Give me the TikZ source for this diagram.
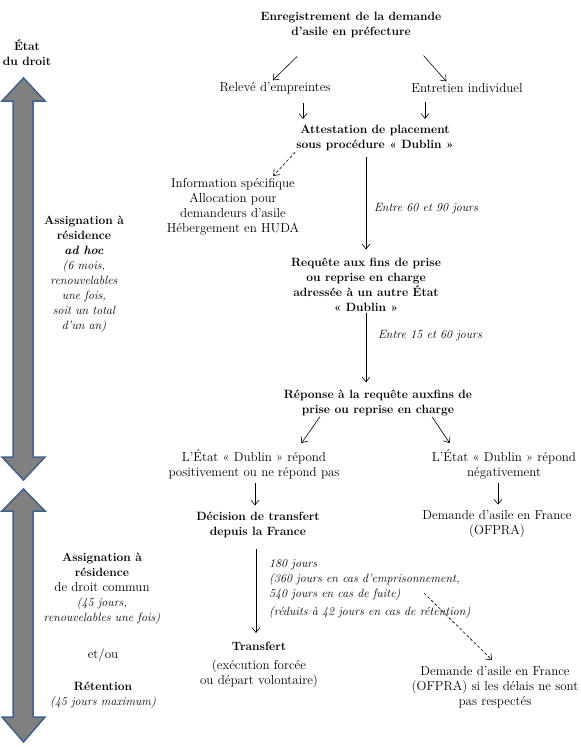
\documentclass[tikz,border=0pt]{standalone}
\usetikzlibrary{arrows.meta}
\definecolor{rim}{HTML}{41618C}
\newcommand\hdfont{\fontsize{12}{15}\selectfont\bfseries}
\newcommand\ntfont{\fontsize{12}{15}\selectfont\itshape}
\begin{document}
\begin{tikzpicture}[x=1pt, y=-1pt, >={Straight Barb[length=5pt,width=8pt]},
  txt/.style={align=center, inner sep=1pt, font=\fontsize{13}{15}\selectfont},
  hd/.style={txt, font=\hdfont},
  nt/.style={txt, font=\ntfont},
  arr/.style={->, line width=0.6pt},
  darr/.style={arr, dash pattern=on 3pt off 2pt}]
  \useasboundingbox (0,0) rectangle (581,747);
  \foreach \t/\a/\b/\e in {78/101/457/480, 489/511/717/742} {
    \filldraw[fill=black!50, draw=rim, line width=1.5pt, line join=miter]
      (23.5,\t) -- (45,\a) -- (33,\a) -- (33,\b) -- (45,\b) -- (23.5,\e) -- (2,\b) -- (13,\b) -- (13,\a) -- (2,\a) -- cycle;
  }
  \node[hd] (etat) at (27,53) {État\\ du droit};
  \node[hd] (reg) at (351,25) {Enregistrement de la demande\\ d'asile en préfecture};
  \node[txt] (rel) at (275,88) {Relevé d'empreintes};
  \node[txt] (ent) at (467,88) {Entretien individuel};
  \node[hd] (att) at (375,138) {Attestation de placement\\ sous procédure «~Dublin~»};
  \node[txt] (info) at (233,207) {Information spécifique\\ Allocation pour\\ demandeurs d'asile\\ Hébergement en HUDA};
  \node[nt] (d1) at (426,209) {Entre 60 et 90 jours};
  \node[hd] (req) at (366,284.5) {Requête aux fins de prise\\ ou reprise en charge\\ adressée à un autre État\\ «~Dublin~»};
  \node[nt] (d2) at (430,336) {Entre 15 et 60 jours};
  \node[hd] (rep) at (378,402.5) {Réponse à la requête auxfins de\\ prise ou reprise en charge};
  \node[txt] (pos) at (254,464) {L'État «~Dublin~» répond\\ positivement ou ne répond pas};
  \node[txt] (neg) at (504,464) {L'État «~Dublin~» répond\\ négativement};
  \node[hd] (dec) at (258,524.5) {Décision de transfert\\ depuis la France};
  \node[txt] (ofp) at (497,524.5) {Demande d'asile en France\\ (OFPRA)};
  \node[nt, anchor=west, align=left] (dl) at (268,589.5) {180 jours\\ (360 jours en cas d'emprisonnement,\\ 540 jours en cas de fuite)\\[3pt] (réduits à 42 jours en cas de rétention)};
  \node[txt] (trans) at (259,665) {{\hdfont Transfert}\\[4pt] (exécution forcée\\ ou départ volontaire)};
  \node[txt] (ofp2) at (495,687) {Demande d'asile en France\\ (OFPRA) si les délais ne sont\\ pas respectés};
  \node[txt] (ass1) at (84,274.5) {{\hdfont Assignation à}\\ {\hdfont résidence}\\ {\hdfont\itshape ad hoc}\\ {\ntfont (6 mois,}\\ {\ntfont renouvelables}\\ {\ntfont une fois,}\\ {\ntfont soit un total}\\ {\ntfont d'un an)}};
  \node[txt] (ass2) at (102,588.5) {{\hdfont Assignation à}\\ {\hdfont résidence}\\ de droit commun\\ {\ntfont (45 jours,}\\ {\ntfont renouvelables une fois)}};
  \node[txt] (eto) at (103,655) {et/ou};
  \node[txt] (ret) at (103,695.5) {{\hdfont Rétention}\\ {\ntfont (45 jours maximum)}};

  \draw[arr, shorten <=25pt, shorten >=1pt] ([xshift=-36pt]reg.south) -- ([xshift=-3pt]rel.north);
  \draw[arr, shorten <=22pt, shorten >=1pt] ([xshift=58pt]reg.south) -- ([xshift=-20pt]ent.north);
  \draw[arr, shorten <=8pt, shorten >=5pt] ([xshift=28pt]rel.south) -- ([xshift=28pt]rel.south |- att.north);
  \draw[arr, shorten <=8pt, shorten >=5pt] ([xshift=-42pt]ent.south) -- ([xshift=-42pt]ent.south |- att.north);
  \draw[darr, shorten >=2pt] (att.south west) -- ([xshift=39pt]info.north);
  \draw[arr, shorten <=5pt, shorten >=7pt] (att.south -| req.north) -- (req.north);
  \draw[arr, shorten >=6pt] (req.south) -- (req.south |- rep.north);
  \draw[arr, shorten >=6pt] ([xshift=-58pt]rep.south) -- ([xshift=44pt]pos.north);
  \draw[arr, shorten >=6pt] ([xshift=54pt]rep.south) -- ([xshift=-51pt]neg.north);
  \draw[arr, shorten <=3.5pt, shorten >=5pt] ([xshift=1pt]pos.south) -- ([xshift=1pt]pos.south |- dec.north);
  \draw[arr, shorten <=3.5pt, shorten >=5pt] ([xshift=-6pt]neg.south) -- ([xshift=-6pt]neg.south |- ofp.north);
  \draw[arr, shorten <=10pt, shorten >=8pt] ([xshift=-2pt]dec.south) -- ([xshift=-2pt]dec.south |- trans.north);
  \draw[darr, shorten >=7pt] ([xshift=156pt, yshift=-3.5pt]dl.west) -- ([xshift=2pt]ofp2.north);
\end{tikzpicture}
\end{document}
